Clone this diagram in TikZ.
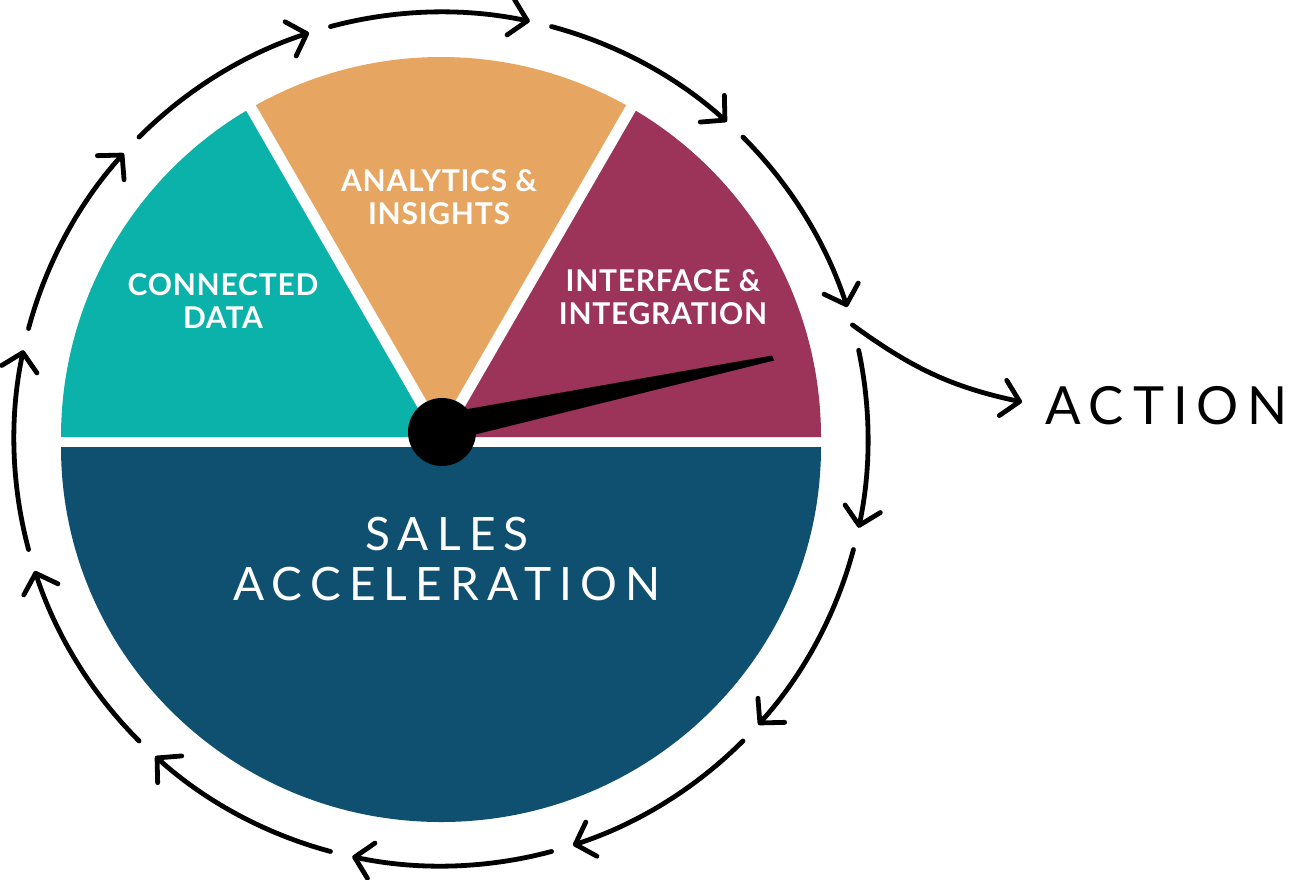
\documentclass[tikz,border=0pt]{standalone}
\usepackage{fontspec}
\setmainfont{Lato}
\usetikzlibrary{arrows.meta}
\definecolor{cteal}{RGB}{11,178,169}
\definecolor{corange}{RGB}{230,166,97}
\definecolor{cpurple}{RGB}{156,51,89}
\definecolor{cnavy}{RGB}{15,80,113}
\begin{document}
\begin{tikzpicture}[x=0.5pt,y=0.5pt,
  flow/.style={line width=2.4pt, line cap=round,
    -{Straight Barb[length=8.5pt,width=18pt,line cap=round,line join=round]}},
  seglabel/.style={text=white, font=\bfseries\fontsize{15}{16.5}\selectfont\addfontfeatures{LetterSpace=2.5}, align=center, inner sep=0pt},
  biglabel/.style={text=white, font=\fontsize{23}{25}\selectfont\addfontfeatures{LetterSpace=18}, align=center, inner sep=0pt},
  actlabel/.style={text=black, font=\fontsize{26.3}{28}\selectfont\addfontfeatures{LetterSpace=17}, inner sep=0pt},
  gapline/.style={white, line width=5.5pt},
]
\useasboundingbox (0,0) rectangle (1300,-879);
% segments
\coordinate (C) at (441,-437);
\coordinate (C2) at (441,-447);
\fill[cteal] (C) -- ++(180:190pt) arc[start angle=180,end angle=120,radius=190pt] -- cycle;
\fill[corange] (C) -- ++(120:190pt) arc[start angle=120,end angle=60,radius=190pt] -- cycle;
\fill[cpurple] (C) -- ++(60:190pt) arc[start angle=60,end angle=0,radius=190pt] -- cycle;
\fill[cnavy] (C2) ++(180:190pt) arc[start angle=180,end angle=360,x radius=190pt,y radius=187.5pt] -- cycle;
\draw[gapline] (C) -- ++(120:195pt);
\draw[gapline] (C) -- ++(60:195pt);
% needle and hub
\fill[black] (445,-413) -- (772,-355.5) -- (774,-360.5) -- (445,-442) -- cycle;
\node[circle, fill=black, minimum size=34pt, inner sep=0pt] (hub) at (442,-432) {};
% labels
\node[seglabel] (conn) at (223,-301) {CONNECTED\\DATA};
\node[seglabel] (anal) at (439,-197) {ANALYTICS \&\\INSIGHTS};
\node[seglabel] (intf) at (663,-297) {INTERFACE \&\\INTEGRATION};
\node[biglabel] (sales) at (447,-559) {SALES\\ACCELERATION};
\node[actlabel, anchor=west] (action) at (1045,-406) {ACTION};
% cycle arrows
\coordinate (O) at (441,-439);
\foreach \s/\e/\n in {195/168/a,165/138/b,135/108/c,105/78/d,75/48/e,45/18/f,12/-12/h,-15/-42/i,-45/-72/j,-75/-102/k,-105/-132/l,-135/-162/m}{
  \path (O) ++(\s:213.5pt) coordinate (\n0);
  \draw[flow] (\n0) arc[start angle=\s,end angle=\e,radius=213.5pt];
}
\path (O) ++(15.5:213.5pt) coordinate (g0);
\coordinate (g1) at (1022,-402);
\draw[flow] (g0) to[out=-36,in=168] (g1);
\end{tikzpicture}
\end{document}
